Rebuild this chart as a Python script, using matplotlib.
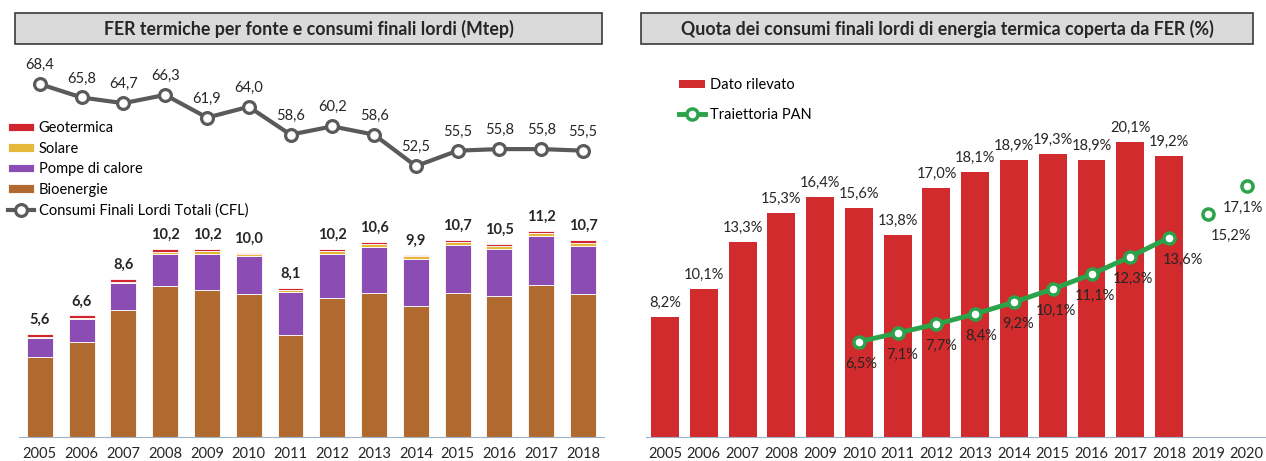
import numpy as np
import matplotlib.pyplot as plt
from matplotlib.patches import Rectangle

plt.rcParams['font.family'] = ['Lato', 'DejaVu Sans']

# FER termiche per fonte (Mtep)
years = ['2005', '2006', '2007', '2008', '2009', '2010', '2011',
         '2012', '2013', '2014', '2015', '2016', '2017', '2018']
bioenergie = [4.35, 5.15, 6.90, 8.20, 8.00, 7.75, 5.55, 7.55, 7.80, 7.10, 7.80, 7.65, 8.25, 7.75]
pompe = [1.05, 1.25, 1.45, 1.75, 1.95, 2.05, 2.30, 2.40, 2.50, 2.55, 2.60, 2.55, 2.65, 2.60]
solare = [0.05, 0.06, 0.08, 0.10, 0.12, 0.13, 0.15, 0.15, 0.16, 0.17, 0.18, 0.18, 0.18, 0.20]
geotermica = [0.15, 0.14, 0.17, 0.15, 0.13, 0.07, 0.10, 0.10, 0.14, 0.08, 0.12, 0.12, 0.12, 0.15]
cfl = [68.4, 65.8, 64.7, 66.3, 61.9, 64.0, 58.6, 60.2, 58.6, 52.5, 55.5, 55.8, 55.8, 55.5]

# Quota FER termiche (%)
years_q = ['2005', '2006', '2007', '2008', '2009', '2010', '2011', '2012',
           '2013', '2014', '2015', '2016', '2017', '2018', '2019', '2020']
quota = [8.2, 10.1, 13.3, 15.3, 16.4, 15.6, 13.8, 17.0, 18.1, 18.9, 19.3, 18.9, 20.1, 19.2]
pan_years = ['2010', '2011', '2012', '2013', '2014', '2015', '2016', '2017', '2018', '2019', '2020']
pan = [6.5, 7.1, 7.7, 8.4, 9.2, 10.1, 11.1, 12.3, 13.6, 15.2, 17.1]

c_bio = '#B06A30'
c_pdc = '#8B4DB3'
c_sol = '#E6B83A'
c_geo = '#D0252E'
c_cfl = '#5A5A5A'
c_red = '#D12B2D'
c_green = '#2BA34B'
c_txt = '#262626'
c_axis = '#9FB1C8'
fs = 10.5

def fmt(v):
    return f'{v:.1f}'.replace('.', ',')

fig = plt.figure(figsize=(12.66, 4.61), dpi=100)

# title boxes
for x0, w, title in [(15, 587, 'FER termiche per fonte e consumi finali lordi (Mtep)'),
                     (641, 612, 'Quota dei consumi finali lordi di energia termica coperta da FER (%)')]:
    fig.patches.append(Rectangle((x0 / 1266, 1 - 44 / 461), w / 1266, 31 / 461,
                                 transform=fig.transFigure, facecolor='#DADADA',
                                 edgecolor='#3A3A3A', lw=1.2))
    fig.text((x0 + w / 2) / 1266, 1 - 28.5 / 461, title, ha='center', va='center',
             fontsize=12.8, fontweight='bold', color=c_txt)

# ---------- left chart ----------
ax1 = fig.add_axes([0.015, 0.052, 0.462, 0.8395])
x = np.arange(len(years))
bw = 0.62
b = np.zeros(len(years))
handles = []
for vals, col, lab in [(bioenergie, c_bio, 'Bioenergie'), (pompe, c_pdc, 'Pompe di calore'),
                       (solare, c_sol, 'Solare'), (geotermica, c_geo, 'Geotermica')]:
    h = ax1.bar(x, vals, bw, bottom=b, color=col, edgecolor='white', lw=0.6, label=lab)
    handles.append(h)
    b = b + np.array(vals)
for xi, tot in zip(x, b):
    ax1.annotate(fmt(tot), (xi, tot), xytext=(0, 7), textcoords='offset pixels',
                 ha='center', va='bottom', fontsize=fs, fontweight='bold', color=c_txt)
ax1.set_ylim(0, 21)
ax1.set_xlim(-0.5, len(years) - 0.5)
ax1.set_xticks(x)
ax1.set_xticklabels(years)

ax2 = ax1.twinx()
ln, = ax2.plot(x, cfl, color=c_cfl, lw=3, marker='o', ms=8.5, mfc='white', mec=c_cfl,
               mew=2.3, label='Consumi Finali Lordi Totali (CFL)')
for xi, v in zip(x, cfl):
    ax2.annotate(fmt(v), (xi, v), xytext=(0, 12), textcoords='offset pixels',
                 ha='center', va='bottom', fontsize=fs, color=c_txt)
ax2.set_ylim(0, 75)

for a in (ax1, ax2):
    for s in a.spines.values():
        s.set_visible(False)
    a.set_yticks([])
ax1.spines['bottom'].set_visible(True)
ax1.spines['bottom'].set_color(c_axis)
ax1.tick_params(axis='x', length=0, labelsize=fs, pad=7, labelcolor=c_txt)

ax2.legend(handles=handles[::-1] + [ln], loc='upper left',
           bbox_to_anchor=(8 / 1266, 1 - 121 / 461), bbox_transform=fig.transFigure,
           frameon=False, fontsize=fs, labelspacing=0.45, handlelength=1.8,
           handleheight=0.5, handletextpad=0.3, borderpad=0, borderaxespad=0)

# ---------- right chart ----------
ax3 = fig.add_axes([0.51, 0.052, 0.49, 0.8395])
xq = np.arange(len(years_q))
bars = ax3.bar(xq[:len(quota)], quota, 0.72, color=c_red, label='Dato rilevato')
for xi, v in zip(xq, quota):
    ax3.annotate(fmt(v) + '%', (xi, v), xytext=(0, 7), textcoords='offset pixels',
                 ha='center', va='bottom', fontsize=fs, color=c_txt)

xp = np.array([years_q.index(y) for y in pan_years])
n_line = pan_years.index('2018') + 1
pl, = ax3.plot(xp[:n_line], pan[:n_line], color=c_green, lw=3.5, marker='o', ms=8,
               mfc='white', mec=c_green, mew=2.5, label='Traiettoria PAN')
ax3.plot(xp[n_line:], pan[n_line:], ls='none', marker='o', ms=8,
         mfc='white', mec=c_green, mew=2.5)
pan_dx = [2, 5, 5, 6, 4, 3, 3, 3, 14, 23, -4]
for xi, v, dx in zip(xp, pan, pan_dx):
    ax3.annotate(fmt(v) + '%', (xi, v), xytext=(dx, -22), textcoords='offset pixels',
                 ha='center', va='center', fontsize=fs, color=c_txt)

ax3.set_ylim(0, 26.4)
ax3.set_xlim(-0.5, len(years_q) - 0.5)
ax3.set_xticks(xq)
ax3.set_xticklabels(years_q)
for s in ax3.spines.values():
    s.set_visible(False)
ax3.spines['bottom'].set_visible(True)
ax3.spines['bottom'].set_color(c_axis)
ax3.set_yticks([])
ax3.tick_params(axis='x', length=0, labelsize=fs, pad=7, labelcolor=c_txt)

ax3.legend(handles=[bars, pl], loc='upper left',
           bbox_to_anchor=(679 / 1266, 1 - 78 / 461), bbox_transform=fig.transFigure,
           frameon=False, fontsize=fs, labelspacing=1.1, handlelength=1.8,
           handleheight=0.5, handletextpad=0.3, borderpad=0, borderaxespad=0)

fig.savefig('out.png', dpi=100)
